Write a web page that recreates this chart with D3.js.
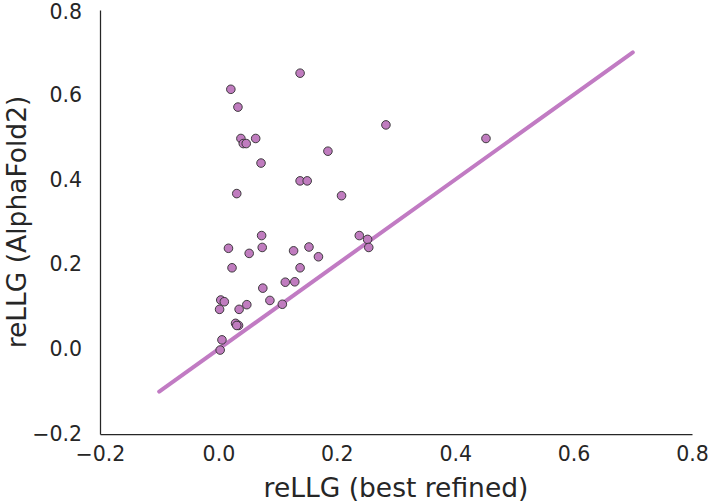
<!DOCTYPE html>
<html>
<head>
<meta charset="utf-8">
<script src="https://cdn.jsdelivr.net/npm/d3@7"></script>
<style>
body { margin:0; background:#fff; }
text { font-family: "DejaVu Sans", sans-serif; fill:#262626; }
</style>
</head>
<body>
<div id="chart"></div>
<script>
// reLLG of best refined model vs AlphaFold2 model
var bestRefined = [0.138, 0.021, 0.033, 0.038, 0.042, 0.047, 0.063, 0.283, 0.072, 0.185,
	0.031, 0.138, 0.150, 0.208, 0.452, 0.073, 0.017, 0.074, 0.052, 0.127,
	0.153, 0.169, 0.238, 0.252, 0.254, 0.023, 0.138, 0.075, 0.113, 0.129,
	0.004, 0.010, 0.002, 0.035, 0.048, 0.087, 0.108, 0.029, 0.034, 0.031,
	0.006, 0.003];
var alphaFold = [0.651, 0.613, 0.571, 0.497, 0.485, 0.485, 0.497, 0.529, 0.439, 0.467,
	0.367, 0.397, 0.397, 0.362, 0.497, 0.268, 0.238, 0.240, 0.226, 0.232,
	0.241, 0.218, 0.268, 0.259, 0.240, 0.192, 0.192, 0.144, 0.158, 0.159,
	0.116, 0.112, 0.094, 0.094, 0.105, 0.115, 0.106, 0.061, 0.056, 0.056,
	0.022, -0.002];
var diagonal = [-0.1, 0.7];
var ticks = [-0.2, 0.0, 0.2, 0.4, 0.6, 0.8];

var pts = bestRefined.map(function(d, i) { return { x: d, y: alphaFold[i] }; });

var margin = { top:10, right:17, bottom:70, left:100 },
	width = 709 - margin.left - margin.right,
	height = 504 - margin.top - margin.bottom;

var x = d3.scaleLinear().domain([-0.2, 0.8]).range([0, width]);
var y = d3.scaleLinear().domain([-0.2, 0.8]).range([height, 0]);

var svg = d3.select("#chart").append("svg")
	.attr("width", width + margin.left + margin.right)
	.attr("height", height + margin.top + margin.bottom)
	.append("g").attr("transform", "translate(" + margin.left + "," + margin.top + ")");

var fmt = function(d) { return d3.format(".1f")(d).replace("-", "\u2212"); };

var xax = svg.append("g").attr("transform", "translate(0," + height + ")")
	.call(d3.axisBottom(x).tickValues(ticks).tickSize(0).tickPadding(12).tickFormat(fmt));
var yax = svg.append("g")
	.call(d3.axisLeft(y).tickValues(ticks).tickSize(0).tickPadding(18).tickFormat(fmt));

[xax, yax].forEach(function(a) {
	a.select(".domain").attr("stroke", "#262626").attr("stroke-width", 1.25);
	a.selectAll("text").style("font-size", "20.5px").attr("fill", "#262626");
});
// top label sits right at the edge, keep it inside
yax.selectAll(".tick text").filter(function(d) { return d === 0.8; }).attr("dy", "0.4em");

var line = d3.line().x(function(d) { return x(d); }).y(function(d) { return y(d); });
svg.append("path").datum(diagonal)
	.attr("d", line)
	.attr("fill", "none")
	.attr("stroke", "#c17bc3")
	.attr("stroke-width", 4)
	.attr("stroke-linecap", "round");

svg.selectAll("circle").data(pts).enter().append("circle")
	.attr("cx", function(d) { return x(d.x); })
	.attr("cy", function(d) { return y(d.y); })
	.attr("r", 4.3)
	.attr("fill", "#c07cbf")
	.attr("stroke", "#2e2e2e")
	.attr("stroke-width", 0.9);

svg.append("text")
	.attr("x", width / 2).attr("y", height + 63)
	.attr("text-anchor", "middle")
	.style("font-size", "26.5px")
	.text("reLLG (best refined)");

svg.append("text")
	.attr("transform", "translate(" + (-74) + "," + (height / 2) + ") rotate(-90)")
	.attr("text-anchor", "middle")
	.style("font-size", "26.5px")
	.text("reLLG (AlphaFold2)");
</script>
</body>
</html>
